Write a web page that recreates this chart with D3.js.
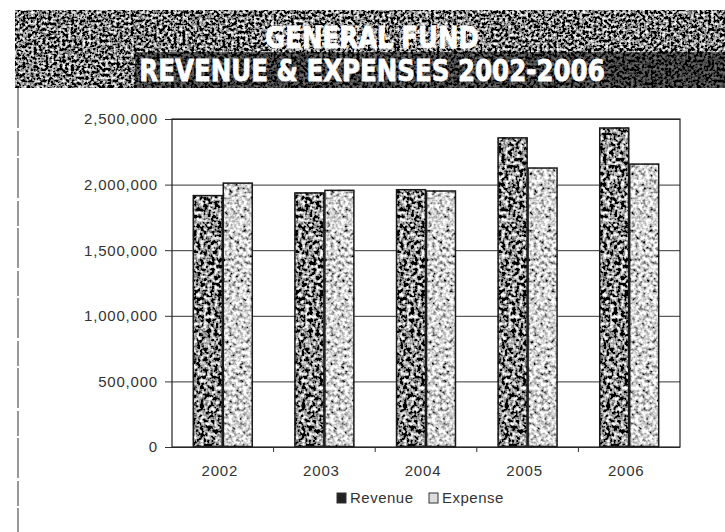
<!DOCTYPE html>
<html>
<head>
<meta charset="utf-8">
<script src="https://cdn.jsdelivr.net/npm/d3@7"></script>
<style>
  body { margin: 0; background: #fff; }
  svg { display: block; }
</style>
</head>
<body>
<svg id="chart"></svg>
<script>
// data
const years = ["2002", "2003", "2004", "2005", "2006"];
const series = ["Revenue", "Expense"];
const revenue = [1920000, 1940000, 1965000, 2360000, 2435000];
const expense = [2015000, 1960000, 1955000, 2130000, 2160000];
const yTicks = [0, 500000, 1000000, 1500000, 2000000, 2500000];
const titleLines = ["GENERAL FUND", "REVENUE & EXPENSES 2002-2006"];

const width = 725, height = 532;
const margin = {top: 119, right: 45, bottom: 85, left: 172};
const innerW = width - margin.left - margin.right;
const innerH = height - margin.top - margin.bottom;
const labelFont = "'Liberation Sans', Arial, sans-serif";

const svg = d3.select("#chart").attr("width", width).attr("height", height);

// grainy textures, like the photocopy
const defs = svg.append("defs");
function grain(id, freq, gain, offset, seed, blur) {
  const f = defs.append("filter").attr("id", id)
    .attr("x", 0).attr("y", 0).attr("width", 1).attr("height", 1);
  f.append("feTurbulence").attr("type", "fractalNoise")
    .attr("baseFrequency", freq).attr("numOctaves", 2).attr("seed", seed).attr("result", "n");
  f.append("feGaussianBlur").attr("in", "n").attr("stdDeviation", blur).attr("result", "b");
  const o = offset - gain * 0.5;
  f.append("feColorMatrix").attr("in", "b").attr("type", "matrix")
    .attr("values", `${gain} 0 0 0 ${o}  ${gain} 0 0 0 ${o}  ${gain} 0 0 0 ${o}  0 0 0 0 1`)
    .attr("result", "g");
  f.append("feComposite").attr("in", "g").attr("in2", "SourceGraphic").attr("operator", "in");
}
grain("grainDark", 0.28, 3.0, 0.28, 3, 0.7);
grain("grainLight", 0.28, 2.4, 0.66, 7, 0.7);
grain("grainBanner", 0.35, 2.8, 0.22, 11, 0.5);

// title banner
svg.append("rect")
  .attr("x", 15).attr("y", 10).attr("width", width - 15).attr("height", 78)
  .attr("fill", "#222").attr("filter", "url(#grainBanner)");
// darker strip behind the second line
svg.append("rect")
  .attr("x", 135).attr("y", 52).attr("width", width - 135).attr("height", 36)
  .attr("fill", "#000").attr("opacity", 0.55);

svg.append("g")
  .attr("transform", "translate(372,0) scale(0.88,1)")
  .selectAll("text")
  .data(titleLines)
  .join("text")
  .attr("x", 0)
  .attr("y", (d, i) => 48 + i * 33)
  .attr("text-anchor", "middle")
  .attr("fill", "#fff")
  .attr("stroke", "#fff")
  .attr("stroke-width", 0.8)
  .style("font-family", "'DejaVu Sans Condensed', 'Liberation Sans Narrow', sans-serif")
  .style("font-weight", "bold")
  .style("font-size", "31px")
  .text(d => d);

// page edge on the left
svg.append("line")
  .attr("x1", 18).attr("x2", 18).attr("y1", 88).attr("y2", height)
  .attr("stroke", "#555").attr("stroke-width", 1.2)
  .attr("stroke-dasharray", "40 3 25 2");

const chart = svg.append("g")
  .attr("transform", `translate(${margin.left},${margin.top})`);

const x0 = d3.scaleBand().domain(years).range([0, innerW]).padding(0);
const x1 = d3.scaleBand().domain(series)
  .range([x0.bandwidth() * 0.205, x0.bandwidth() * 0.795]).padding(0);
const y = d3.scaleLinear().domain([0, 2500000]).range([innerH, 0]);

// gridlines + y axis
const yAxis = d3.axisLeft(y).tickValues(yTicks).tickFormat(d3.format(","))
  .tickSizeInner(-innerW).tickSizeOuter(0).tickPadding(14);
const yAxisG = chart.append("g").call(yAxis);
yAxisG.select(".domain").remove();
yAxisG.selectAll(".tick line").attr("stroke", "#333").attr("x1", -7);
yAxisG.selectAll(".tick text")
  .style("font-family", labelFont)
  .style("font-size", "15px").style("letter-spacing", "0.8px").attr("fill", "#333");

// bars
const table = years.map((yr, i) => ({year: yr, values: [
  {key: "Revenue", value: revenue[i]},
  {key: "Expense", value: expense[i]}
]}));

const groups = chart.append("g")
  .selectAll("g")
  .data(table)
  .join("g")
  .attr("transform", d => `translate(${x0(d.year)},0)`);

groups.selectAll("rect.fill")
  .data(d => d.values)
  .join("rect")
  .attr("class", "fill")
  .attr("x", d => x1(d.key))
  .attr("y", d => y(d.value))
  .attr("width", x1.bandwidth())
  .attr("height", d => innerH - y(d.value))
  .attr("fill", d => d.key === "Revenue" ? "#333" : "#999")
  .attr("filter", d => d.key === "Revenue" ? "url(#grainDark)" : "url(#grainLight)");

groups.selectAll("rect.edge")
  .data(d => d.values)
  .join("rect")
  .attr("class", "edge")
  .attr("x", d => x1(d.key) + 0.5)
  .attr("y", d => y(d.value) + 0.5)
  .attr("width", x1.bandwidth() - 1)
  .attr("height", d => innerH - y(d.value) - 1)
  .attr("fill", "none")
  .attr("stroke", "#1a1a1a")
  .attr("stroke-width", 1.5);

// plot frame
chart.append("rect")
  .attr("width", innerW).attr("height", innerH)
  .attr("fill", "none").attr("stroke", "#222").attr("stroke-width", 1.2);

// x axis
const xAxis = d3.axisBottom(x0).tickSize(0).tickPadding(18);
const xAxisG = chart.append("g").attr("transform", `translate(0,${innerH})`).call(xAxis);
xAxisG.select(".domain").remove();
xAxisG.selectAll(".tick text")
  .attr("dx", -3)
  .style("font-family", labelFont)
  .style("font-size", "15px").style("letter-spacing", "0.8px").attr("fill", "#333");

chart.append("g")
  .selectAll("line")
  .data(years.slice(1))
  .join("line")
  .attr("x1", d => x0(d)).attr("x2", d => x0(d))
  .attr("y1", innerH).attr("y2", innerH + 5)
  .attr("stroke", "#333");

// legend
const legend = svg.append("g").attr("transform", "translate(337,503)");
const legendX = [0, 92];
series.forEach((s, i) => {
  const g = legend.append("g").attr("transform", `translate(${legendX[i]},0)`);
  g.append("rect").attr("x", 0).attr("y", -10).attr("width", 9).attr("height", 10)
    .attr("fill", i === 0 ? "#222" : "#ddd").attr("stroke", "#333");
  g.append("text").attr("x", 13).attr("y", 0)
    .style("font-family", labelFont)
    .style("font-size", "15px").style("letter-spacing", "0.5px").attr("fill", "#333")
    .text(s);
});
</script>
</body>
</html>
